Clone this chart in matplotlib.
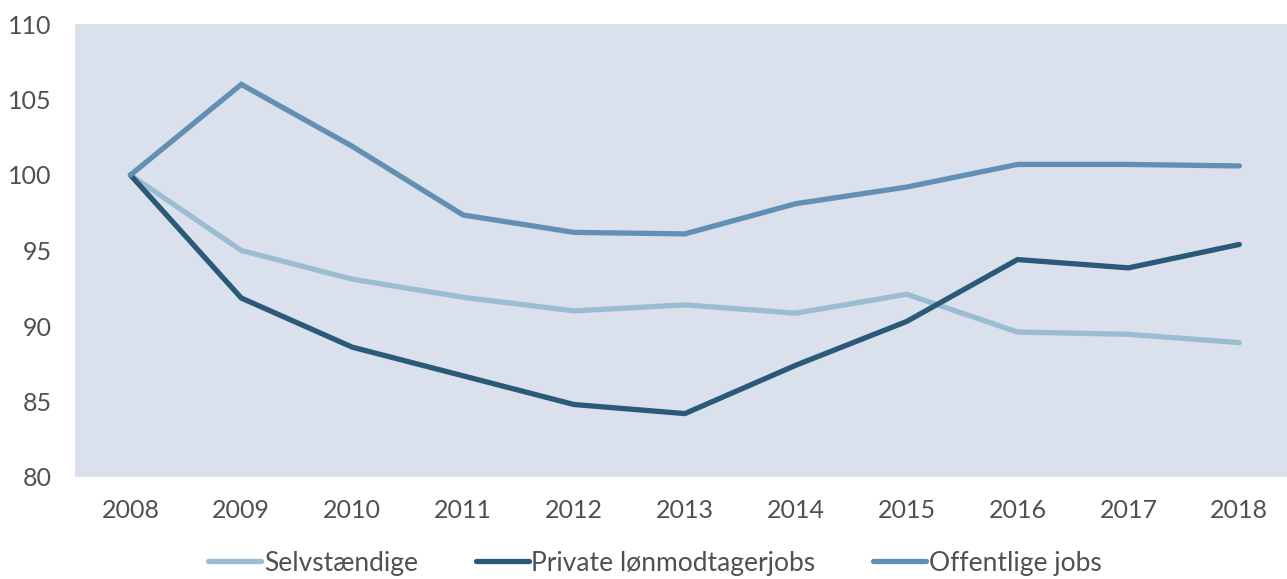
import matplotlib
matplotlib.use("Agg")
import matplotlib.pyplot as plt

# data
years = [2008, 2009, 2010, 2011, 2012, 2013, 2014, 2015, 2016, 2017, 2018]
selvstaendige = [100, 95.0, 93.1, 91.9, 91.0, 91.4, 90.85, 92.1, 89.6, 89.45, 88.9]
private = [100, 91.85, 88.6, 86.7, 84.8, 84.2, 87.4, 90.3, 94.4, 93.85, 95.4]
offentlige = [100, 106.0, 101.9, 97.35, 96.2, 96.1, 98.1, 99.2, 100.7, 100.7, 100.6]
labels = ["Selvstændige", "Private lønmodtagerjobs", "Offentlige jobs"]
colors = ["#9bbdd1", "#2a5a78", "#6190b4"]
yticks = [80, 85, 90, 95, 100, 105, 110]

plt.rcParams["font.family"] = ["Lato", "DejaVu Sans"]

fig = plt.figure(figsize=(12.87, 5.79), dpi=100)
ax = fig.add_axes([75 / 1287, 1 - 477 / 579, 1 - 75 / 1287, (477 - 24) / 579])
ax.set_facecolor("#dae0ec")

for vals, lab, col in zip([selvstaendige, private, offentlige], labels, colors):
    ax.plot(years, vals, color=col, lw=3.8, label=lab, solid_capstyle="round", solid_joinstyle="miter")

ax.set_xlim(2007.5, 2018.43)
ax.set_ylim(80, 110)
ax.set_xticks(years)
ax.set_yticks(yticks)
ax.tick_params(length=0, labelsize=18, colors="#505050")
ax.tick_params(axis="y", pad=17)
ax.tick_params(axis="x", pad=16)
for s in ax.spines.values():
    s.set_visible(False)

leg = fig.legend(loc="center", bbox_to_anchor=(655 / 1287, 1 - 563 / 579), ncol=3,
                 frameon=False, fontsize=19, handlelength=2.0, handletextpad=0.1,
                 columnspacing=2.2, labelcolor="#505050")

fig.savefig("out.png", dpi=100)
